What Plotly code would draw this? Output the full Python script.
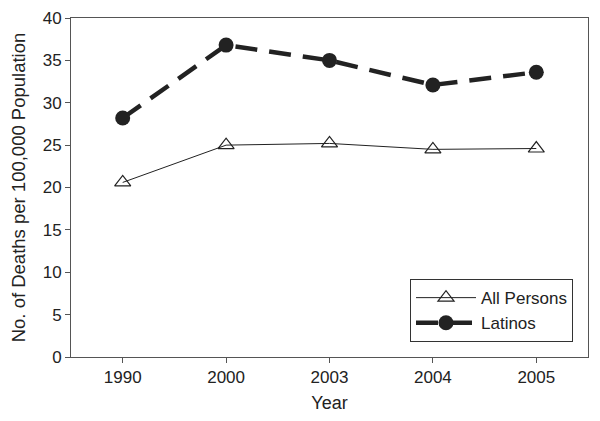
import plotly.graph_objects as go

years = ["1990", "2000", "2003", "2004", "2005"]
all_persons = [20.6, 25.0, 25.2, 24.5, 24.6]
latinos = [28.2, 36.8, 35.0, 32.1, 33.6]

FONT = "Liberation Sans, Arial, sans-serif"

fig = go.Figure()
fig.add_scatter(
    x=years, y=all_persons, name="All Persons", mode="lines+markers",
    line=dict(color="#222222", width=1),
    marker=dict(symbol="triangle-up-open", size=14, color="#222222",
                line=dict(width=1.2)),
)
fig.add_scatter(
    x=years, y=latinos, name="Latinos", mode="lines+markers",
    line=dict(color="#222222", width=4.5, dash="22px,12px"),
    marker=dict(symbol="circle", size=15, color="#222222"),
)

axis_common = dict(
    showline=True, linecolor="#555555", linewidth=1, mirror=True,
    ticks="outside", ticklen=5, tickcolor="#555555",
    showgrid=False, zeroline=False, automargin=False,
    ticklabeloverflow="allow",
    tickfont=dict(family=FONT, size=17, color="#222222"),
)
# page body has an 8px margin, so the figure is sized to fit inside the window
fig.update_layout(
    width=584, height=405,
    paper_bgcolor="white", plot_bgcolor="white",
    margin=dict(l=63, r=4, t=10, b=56),
    font=dict(family=FONT, color="#222222"),
    xaxis=dict(axis_common, type="category", range=[-0.5, 4.5],
               title=dict(text="Year", font=dict(family=FONT, size=18), standoff=13)),
    yaxis=dict(axis_common, range=[0, 40], dtick=5,
               title=dict(text="No. of Deaths per 100,000 Population",
                          font=dict(family=FONT, size=18.5), standoff=12)),
    legend=dict(x=0.971, y=0.044, xanchor="right", yanchor="bottom",
                bordercolor="#333333", borderwidth=1, bgcolor="white",
                font=dict(family=FONT, size=17), tracegroupgap=0,
                itemwidth=60),
)

fig.write_html("out.html")
